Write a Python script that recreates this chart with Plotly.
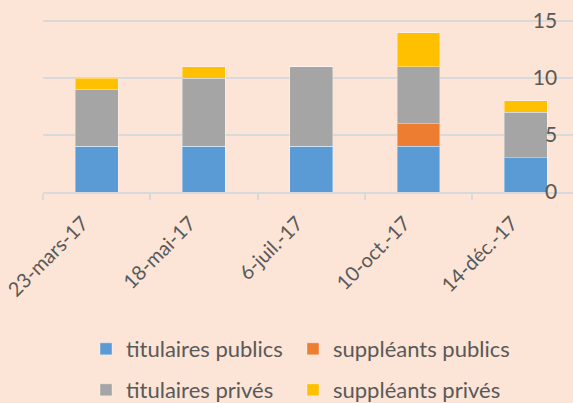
import plotly.graph_objects as go

dates = ["23-mars-17", "18-mai-17", "6-juil.-17", "10-oct.-17", "14-déc.-17"]
titulaires_publics = [4, 4, 4, 4, 3]
suppleants_publics = [0, 0, 0, 2, 0]
titulaires_prives = [5, 6, 7, 5, 4]
suppleants_prives = [1, 1, 0, 3, 1]
y_ticks = [0, 5, 10, 15]

series = [
    ("titulaires publics", titulaires_publics, "#5B9BD5", "legend"),
    ("suppléants publics", suppleants_publics, "#ED7D31", "legend2"),
    ("titulaires privés", titulaires_prives, "#A5A5A5", "legend3"),
    ("suppléants privés", suppleants_prives, "#FFC000", "legend4"),
]

fig = go.Figure()
for name, vals, color, leg in series:
    fig.add_trace(go.Bar(
        x=dates, y=vals, name=name, marker_color=color,
        marker_line=dict(color="rgba(255,255,255,0.35)", width=1),
        legend=leg, showlegend=True,
    ))

FAM = "Lato, Open Sans, sans-serif"
GREY = "#595959"
bg = "#FCE4D6"
yrange = [0, 15.1]
W, H = 573, 403


def leg(px, py):
    return dict(orientation="h", xref="container", yref="container",
                x=px / W, xanchor="left", y=1 - py / H, yanchor="middle",
                itemwidth=30, bgcolor="rgba(0,0,0,0)", font=dict(size=22),
                visible=True)


fig.update_layout(
    showlegend=True,
    barmode="stack",
    bargap=0.6,
    width=W, height=H,
    paper_bgcolor=bg, plot_bgcolor=bg,
    font=dict(family=FAM, size=22, color=GREY),
    margin=dict(l=43, r=0, t=20, b=211, autoexpand=False),
    xaxis=dict(
        range=[-0.5, 4.44], tickangle=-45, tickson="boundaries",
        ticks="outside", ticklen=6, tickcolor="#D9D9D9", tickwidth=1.5,
        showline=True, linecolor="#D9D9D9", linewidth=1.5,
        showgrid=False, tickfont=dict(size=20), automargin=False,
        ticklabelshift=-14, ticklabelstandoff=10,
    ),
    yaxis=dict(
        range=yrange, tickvals=y_ticks, anchor="free", side="left",
        position=0.970, ticks="", ticklabelposition="outside",
        showgrid=True, gridcolor="#D9D9D9", gridwidth=1.5,
        zeroline=False, showline=False, automargin=False,
        tickfont=dict(size=21),
    ),
    legend=leg(86, 349),
    legend2=leg(293, 349),
    legend3=leg(86, 390),
    legend4=leg(293, 390),
)

fig.write_html(
    "out.html",
    config={"displayModeBar": False},
    post_script="document.body.style.margin='0';document.body.style.overflow='hidden';",
)
